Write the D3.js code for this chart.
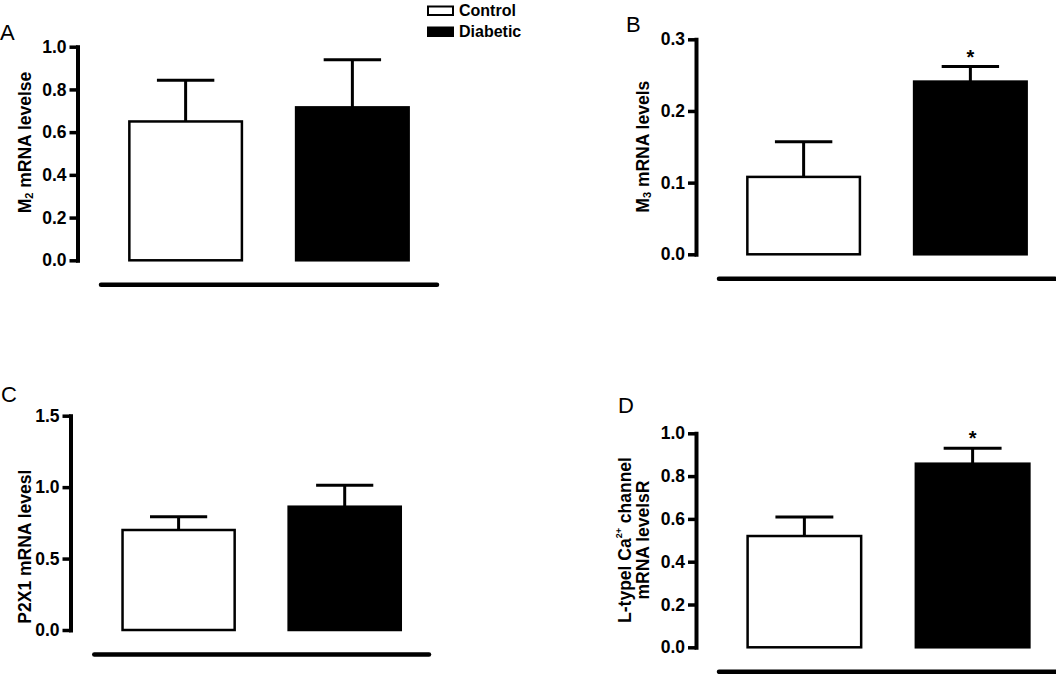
<!DOCTYPE html>
<html>
<head>
<meta charset="utf-8">
<script src="https://cdn.jsdelivr.net/npm/d3@7"></script>
<style>
  html, body { margin: 0; padding: 0; background: #fff; }
  svg { display: block; }
  text { font-family: Arial, "Liberation Sans", Helvetica, sans-serif; }
</style>
</head>
<body>
<svg id="chart" width="1056" height="674"></svg>
<script>
// ---------- data ----------
const groups = ["Control", "Diabetic"];
const panelLetters = ["A", "B", "C", "D"];

const m2Values = [0.65, 0.716];
const m2Errors = [0.193, 0.223];
const m2Ticks = [0, 0.2, 0.4, 0.6, 0.8, 1.0];

const m3Values = [0.108, 0.241];
const m3Errors = [0.049, 0.021];
const m3Ticks = [0, 0.1, 0.2, 0.3];

const p2x1Values = [0.70, 0.863];
const p2x1Errors = [0.093, 0.150];
const p2x1Ticks = [0, 0.5, 1.0, 1.5];

const ltccValues = [0.52, 0.858];
const ltccErrors = [0.089, 0.072];
const ltccTicks = [0, 0.2, 0.4, 0.6, 0.8, 1.0];

const m2Marks = ["", ""];
const m3Marks = ["", "*"];
const p2x1Marks = ["", ""];
const ltccMarks = ["", "*"];

// ---------- layout ----------
const panels = [
  { letter: panelLetters[0], values: m2Values, errors: m2Errors, ticks: m2Ticks, marks: m2Marks,
    axisX: 77.5, yTop: 46.7, yBottom: 260.3, xRange: [101, 437],
    letterPos: [0, 40], labelX: [25], labelY: 142.5,
    label: [[["M", 0], ["2", 1], [" mRNA levelse", -1]]] },
  { letter: panelLetters[1], values: m3Values, errors: m3Errors, ticks: m3Ticks, marks: m3Marks,
    axisX: 696, yTop: 39.3, yBottom: 254.3, xRange: [719, 1055],
    letterPos: [626, 32], labelX: [643.3], labelY: 146.7,
    label: [[["M", 0], ["3", 1], [" mRNA levels", -1]]] },
  { letter: panelLetters[2], values: p2x1Values, errors: p2x1Errors, ticks: p2x1Ticks, marks: p2x1Marks,
    axisX: 70.5, yTop: 415.7, yBottom: 630, xRange: [94.3, 429],
    letterPos: [1, 402], labelX: [25], labelY: 546.7,
    label: [[["P2X1 mRNA levesl", 0]]] },
  { letter: panelLetters[3], values: ltccValues, errors: ltccErrors, ticks: ltccTicks, marks: ltccMarks,
    axisX: 696, yTop: 433.3, yBottom: 647.3, xRange: [719, 1058],
    letterPos: [618, 413], labelX: [625, 643.3], labelY: 540,
    label: [[["L-typel Ca", 0], ["2+", 2], [" channel", -2]], [["mRNA levelsR", 0]]] }
];

const svg = d3.select("#chart");

panels.forEach(p => {
  const g = svg.append("g");
  const maxV = p.ticks[p.ticks.length - 1];
  const y = d3.scaleLinear().domain([0, maxV]).range([p.yBottom, p.yTop]);
  const x = d3.scaleBand().domain(groups).range(p.xRange).paddingInner(0.325).paddingOuter(0.17);

  // panel letter
  g.append("text").attr("x", p.letterPos[0]).attr("y", p.letterPos[1])
    .attr("font-size", 22).attr("fill", "#000").text(p.letter);

  // y axis
  const ax = g.append("g").attr("transform", `translate(${p.axisX},0)`)
    .call(d3.axisLeft(y).tickValues(p.ticks).tickFormat(d3.format(".1f"))
      .tickSize(8).tickSizeOuter(0).tickPadding(3));
  ax.select(".domain").attr("stroke", "#000").attr("stroke-width", 4).attr("stroke-linecap", "square");
  ax.selectAll(".tick line").attr("stroke", "#000").attr("stroke-width", 3.5);
  ax.selectAll(".tick text").attr("font-size", 17.5).attr("font-weight", "bold")
    .attr("fill", "#000").attr("font-family", "Arial, 'Liberation Sans', sans-serif");

  // y label
  p.label.forEach((line, li) => {
    const t = g.append("text")
      .attr("transform", `translate(${p.labelX[li]},${p.labelY}) rotate(-90)`)
      .attr("text-anchor", "middle").attr("dominant-baseline", "central")
      .attr("font-size", 17.5).attr("font-weight", "bold").attr("fill", "#000");
    line.forEach(([s, kind]) => {
      const ts = t.append("tspan").text(s);
      if (kind === 1) ts.attr("font-size", 11).attr("dy", 4);
      else if (kind === -1) ts.attr("dy", -4);
      else if (kind === 2) ts.attr("font-size", 9).attr("dy", -6);
      else if (kind === -2) ts.attr("dy", 6);
    });
  });

  // bars
  const rows = groups.map((k, i) => ({ k, v: p.values[i], e: p.errors[i], m: p.marks[i] }));
  const bw = x.bandwidth();

  // error bars (upper only)
  rows.forEach(r => {
    const cx = x(r.k) + bw / 2;
    g.append("line").attr("x1", cx).attr("x2", cx)
      .attr("y1", y(r.v)).attr("y2", y(r.v + r.e))
      .attr("stroke", "#000").attr("stroke-width", 3);
    g.append("line").attr("x1", cx - bw * 0.255).attr("x2", cx + bw * 0.255)
      .attr("y1", y(r.v + r.e)).attr("y2", y(r.v + r.e))
      .attr("stroke", "#000").attr("stroke-width", 3);
    if (r.m) {
      g.append("text").attr("x", cx).attr("y", y(r.v + r.e) - 3)
        .attr("text-anchor", "middle").attr("font-size", 20).attr("font-weight", "bold")
        .attr("fill", "#000").text(r.m);
    }
  });

  g.selectAll("rect.bar").data(rows).enter().append("rect")
    .attr("class", "bar")
    .attr("x", d => x(d.k)).attr("width", bw)
    .attr("y", d => y(d.v)).attr("height", d => y(0) - y(d.v))
    .attr("fill", (d, i) => i === 0 ? "#fff" : "#000")
    .attr("stroke", "#000").attr("stroke-width", 2.5);

  // baseline bar under the groups
  g.append("line").attr("x1", p.xRange[0]).attr("x2", p.xRange[1])
    .attr("y1", p.yBottom + 24.5).attr("y2", p.yBottom + 24.5)
    .attr("stroke", "#000").attr("stroke-width", 4.5).attr("stroke-linecap", "round");
});

// legend
const legend = svg.append("g");
groups.forEach((gname, i) => {
  const yy = i === 0 ? 6.5 : 27.5;
  legend.append("rect").attr("x", 428).attr("y", yy).attr("width", 25).attr("height", 8.5)
    .attr("fill", i === 0 ? "#fff" : "#000").attr("stroke", "#000").attr("stroke-width", 2);
  legend.append("text").attr("x", 459).attr("y", yy + 9)
    .attr("font-size", 16).attr("font-weight", "bold").attr("fill", "#000").text(gname);
});
</script>
</body>
</html>
